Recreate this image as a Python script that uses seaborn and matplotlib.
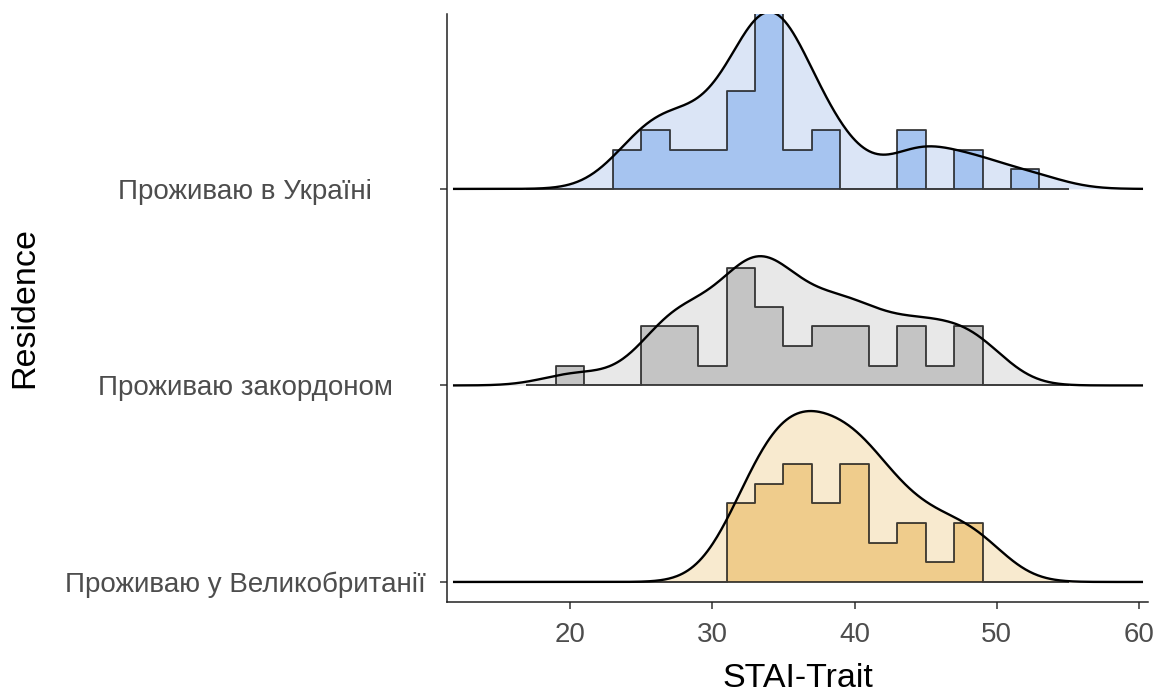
import numpy as np
import pandas as pd
import matplotlib
matplotlib.use("Agg")
import matplotlib.pyplot as plt
import matplotlib.transforms as mtransforms
import seaborn as sns

# ---------------- data ----------------
groups = ["Проживаю у Великобританії", "Проживаю закордоном", "Проживаю в Україні"]
bin_edges = [17, 19, 21, 23, 25, 27, 29, 31, 33, 35, 37, 39, 41, 43, 45, 47, 49, 51, 53, 55]
# representative score of each 2-point bin (mean of the two integer scores in a right-closed bin)
bin_scores = [18.5, 20.5, 22.5, 24.5, 26.5, 28.5, 30.5, 32.5, 34.5, 36.5, 38.5, 40.5,
              42.5, 44.5, 46.5, 48.5, 50.5, 52.5, 54.5]
counts_uk = [0, 0, 0, 0, 0, 0, 0, 4, 5, 6, 4, 6, 2, 3, 1, 3, 0, 0, 0]
counts_abroad = [0, 1, 0, 0, 3, 3, 1, 6, 4, 2, 3, 3, 1, 3, 1, 3, 0, 0, 0]
counts_ukraine = [0, 0, 0, 2, 3, 2, 2, 5, 9, 2, 3, 0, 0, 3, 0, 2, 0, 1, 0]
x_ticks = [20, 30, 40, 50, 60]

hist_colors = ["#efcc8c", "#c4c4c4", "#a6c4f0"]
dens_colors = ["#f8eacf", "#e8e8e8", "#dbe5f6"]

# ---------------- setup ----------------
sns.set_theme(style="ticks")
plt.rcParams['font.family'] = ['Liberation Sans', 'DejaVu Sans']

W, H = 1161, 698
fig = plt.figure(figsize=(W / 100, H / 100), dpi=100)
ax_l, ax_r, ax_t, ax_b = 447, 1148, 14, 602
ax = fig.add_axes([ax_l / W, (H - ax_b) / H, (ax_r - ax_l) / W, (ax_b - ax_t) / H])

all_counts = (counts_uk, counts_abroad, counts_ukraine)
df = pd.DataFrame({
    "score": np.concatenate([np.repeat(bin_scores, c) for c in all_counts]),
    "group": np.concatenate([[g] * int(np.sum(c)) for g, c in zip(groups, all_counts)]),
})


def bw_nrd0(x):
    x = np.asarray(x, float)
    sd = np.std(x, ddof=1)
    iqr = np.subtract(*np.percentile(x, [75, 25]))
    lo = min(sd, iqr / 1.34)
    return 0.9 * lo * len(x) ** -0.2


samples = [df.loc[df.group == g, "score"].to_numpy() for g in groups]
bw = np.mean([bw_nrd0(s) for s in samples])  # joint bandwidth
clip = (11.77, 60.28)
max_count = max(max(c) for c in all_counts)
ridge_h = 0.9

# density lines (drawn first to find the common maximum)
lines = []
for i, (g, s) in enumerate(zip(groups, samples)):
    n0 = len(ax.lines)
    sns.kdeplot(x=s, bw_method=bw / np.std(s, ddof=1), cut=10, clip=clip, gridsize=500,
                color="black", linewidth=1.7, ax=ax, zorder=4)
    lines.append(ax.lines[n0])
dmax = max(l.get_ydata().max() for l in lines)
kscale = ridge_h / dmax
for i, l in enumerate(lines):
    l.set_transform(mtransforms.Affine2D().scale(1, kscale).translate(0, i) + ax.transData)
    l.set_solid_capstyle("butt")

# density fills
for i, (g, s) in enumerate(zip(groups, samples)):
    n0 = len(ax.collections)
    sns.kdeplot(x=s, bw_method=bw / np.std(s, ddof=1), cut=10, clip=clip, gridsize=500,
                fill=True, color=dens_colors[i], alpha=1, linewidth=0, ax=ax, zorder=1)
    for c in ax.collections[n0:]:
        c.set_facecolor(dens_colors[i])
        c.set_transform(mtransforms.Affine2D().scale(1, kscale).translate(0, i) + ax.transData)

# histograms (step outline)
hscale = ridge_h / max_count
for i, (g, s) in enumerate(zip(groups, samples)):
    n0 = len(ax.collections)
    sns.histplot(x=s, bins=bin_edges, element="step", fill=True, stat="count",
                 color=hist_colors[i], alpha=1, edgecolor=(0.08, 0.08, 0.08, 0.8),
                 linewidth=1.35, ax=ax, zorder=2)
    for c in ax.collections[n0:]:
        c.set_facecolor(hist_colors[i])
        c.set_transform(mtransforms.Affine2D().scale(1, hscale).translate(0, i) + ax.transData)

# ---------------- axes styling ----------------
ax.set_xlim(11.35, 60.63)
ax.set_ylim(-0.102, 2.89)
ax.set_xticks(x_ticks)
ax.set_xticklabels([str(t) for t in x_ticks])
ax.set_yticks([0, 1, 2])
ax.set_yticklabels(groups)
sns.despine(ax=ax)
for sp in ("left", "bottom"):
    ax.spines[sp].set_linewidth(1.1)
    ax.spines[sp].set_color("#222222")

tick_len = 5.0
ax.tick_params(axis="x", length=tick_len, width=1.1, color="#333333", pad=9.5,
               labelsize=20, labelcolor="#4d4d4d")
ax.tick_params(axis="y", length=tick_len, width=1.1, color="#333333",
               pad=(447 - 245) * 0.72 - tick_len, labelsize=20, labelcolor="#4d4d4d")
for lab in ax.get_yticklabels():
    lab.set_horizontalalignment("center")

ax.set_xlabel("STAI-Trait", fontsize=24.5, color="black", labelpad=11)
ax.set_ylabel("Residence", fontsize=24.5, color="black")
ax.yaxis.set_label_coords((25 - ax_l) / (ax_r - ax_l), 0.5)
ax.yaxis.label.set_verticalalignment("center")
ax.yaxis.label.set_horizontalalignment("center")
ax.set_facecolor("white")
fig.patch.set_facecolor("white")

fig.savefig("out.png", dpi=100)
